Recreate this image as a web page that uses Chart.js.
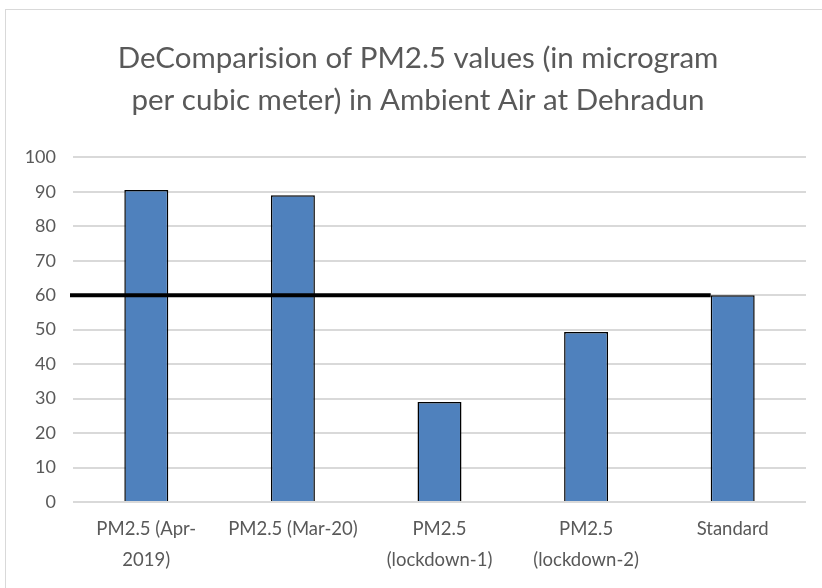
<!DOCTYPE html>
<html>
<head>
<meta charset="utf-8">
<script src="https://cdn.jsdelivr.net/npm/chart.js@4"></script>
<style>
  body { margin: 0; background: #fff; overflow: hidden; }
  #frame { position: absolute; left: 5px; top: 9px; width: 900px; height: 700px; border: 1px solid #d9d9d9; }
  #canvasChart { position: absolute; left: 0; top: 0; }
</style>
</head>
<body>
<div id="frame"></div>
<canvas id="canvasChart" width="822" height="588"></canvas>
<script>
// values
var categories = [
    ['PM2.5 (Apr-', '2019)'],
    'PM2.5 (Mar-20)',
    ['PM2.5', '(lockdown-1)'],
    ['PM2.5', '(lockdown-2)'],
    'Standard'
]
var pmValues = [90.5, 89, 29, 49.3, 60]
var yTicks = [0, 10, 20, 30, 40, 50, 60, 70, 80, 90, 100]
var standardLine = 60

var titleLines = ['DeComparision of PM2.5 values (in microgram', 'per cubic meter) in Ambient Air at Dehradun']

// thick black line at the standard value, drawn over the bars
const limitLine = {
    id: 'limitLine',
    afterLayout(chart) {
        // title sits a little right of the canvas centre in the original
        chart.titleBlock.left += 15
        chart.titleBlock.right += 15
    },
    afterDatasetsDraw(chart) {
        let ctx = chart.ctx
        let y = chart.scales.y.getPixelForValue(standardLine)
        let bars = chart.getDatasetMeta(0).data
        let last = bars[bars.length - 1]
        let xEnd = last.x - last.width / 2
        ctx.save()
        ctx.strokeStyle = '#000000'
        ctx.lineWidth = 4
        ctx.beginPath()
        ctx.moveTo(chart.chartArea.left - 3, y)
        ctx.lineTo(xEnd, y)
        ctx.stroke()
        ctx.restore()
    }
}

let ctx = document.getElementById('canvasChart').getContext('2d')

const phChart = new Chart(ctx, {
    type: 'bar',
    data: {
        labels: categories,
        datasets: [{
            label: 'PM2.5',
            data: pmValues,
            backgroundColor: '#4f81bd',
            borderColor: '#000000',
            borderWidth: 1.5,
            barPercentage: 0.3,
            categoryPercentage: 1
        }]
    },
    options: {
        responsive: false,
        animation: false,
        layout: {
            padding: { left: 0, right: 16, top: 0, bottom: 0 }
        },
        plugins: {
            legend: { display: false },
            tooltip: { enabled: false },
            title: {
                display: true,
                text: titleLines,
                color: '#595959',
                font: { family: 'Lato', size: 29.5, weight: 'normal', lineHeight: 1.43 },
                padding: { top: 37, bottom: 36 }
            }
        },
        scales: {
            x: {
                grid: { display: false },
                border: { display: false },
                ticks: {
                    color: '#595959',
                    font: { family: 'Lato', size: 18.5, lineHeight: 1.7 },
                    padding: 3,
                    maxRotation: 0,
                    autoSkip: false
                },
                afterFit: function (scale) { scale.height = 86 }
            },
            y: {
                min: 0,
                max: 100,
                afterBuildTicks: function (scale) {
                    scale.ticks = yTicks.map(function (v) { return { value: v } })
                },
                grid: { color: '#d9d9d9', lineWidth: 2, drawTicks: false },
                border: { display: false },
                ticks: {
                    color: '#595959',
                    font: { family: 'Lato', size: 18 },
                    padding: 17
                },
                afterFit: function (scale) { scale.width = 73 }
            }
        }
    },
    plugins: [limitLine]
})
</script>
</body>
</html>
